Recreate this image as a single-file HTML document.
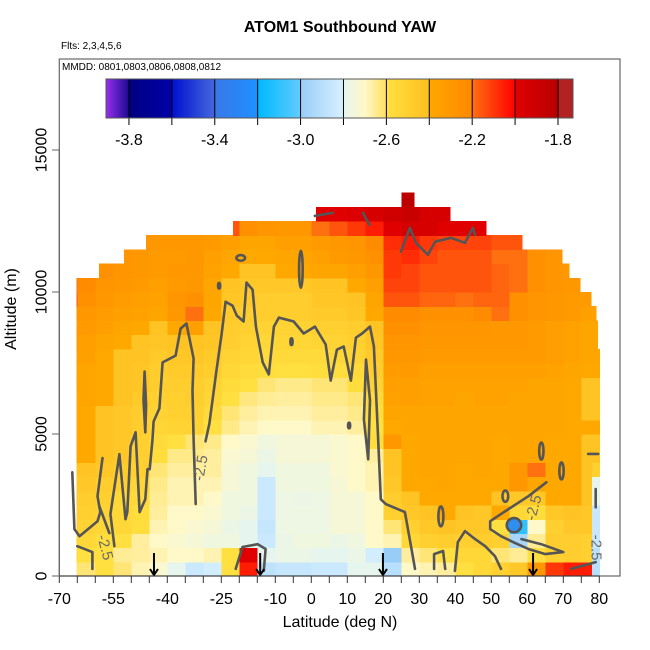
<!DOCTYPE html>
<html><head><meta charset="utf-8"><style>
html,body{margin:0;padding:0;background:#fff;}
svg{display:block;font-family:"Liberation Sans",Arial,sans-serif;}
</style></head><body>
<svg id="chart" width="650" height="650" viewBox="0 0 650 650"></svg>
<script>
// ---- data ----
const binEdges = [-70,-65,-60,-55,-50,-45,-40,-35,-30,-25,-20,-15,-10,-5,0,5,10,15,20,25,30,35,40,45,50,55,60,65,70,75,78,80];
const rowStart = [-65.2,-65.2,-65.2,-65.2,-65.2,-65.2,-65.2,-65.2,-65.2,-65.2,-65.2,-65.2,-65.2,-65.2,-65.2,-65.2,-65.2,-65.2,-65.2,-65.2,-65.2,-59,-52,-45.9,-21.8,1.3,24.4];
const rowEnd   = [80.5,80.5,80.5,80.5,80.5,80.5,80.5,80.5,80.5,80.5,80.5,80.5,80.2,80.2,80,80,79.5,79.5,79.1,77.7,74.6,71.6,69.6,58.5,48.5,38.5,28.5];
const row0  = [-2.62,-2.62,-2.6,-2.62,-2.68,-2.72,-2.8,-2.84,-2.82,-2.6,-2.05,-2.88,-2.86,-2.86,-2.84,-2.84,-2.8,-2.8,-2.9,-2.7,-2.68,-2.66,-2.6,-2.55,-2.5,-2.45,-2.3,-2.1,-2.05,-2.05,-2.9];
const row1  = [-2.55,-2.6,-2.6,-2.65,-2.66,-2.68,-2.7,-2.7,-2.68,-2.6,-2.0,-2.8,-2.78,-2.78,-2.8,-2.8,-2.78,-2.82,-3.0,-2.66,-2.62,-2.6,-2.55,-2.55,-2.62,-2.65,-2.6,-2.5,-2.48,-2.5,-2.9];
const row2  = [-2.5,-2.55,-2.58,-2.6,-2.66,-2.7,-2.72,-2.74,-2.76,-2.76,-2.8,-2.84,-2.78,-2.76,-2.76,-2.78,-2.76,-2.7,-2.68,-2.55,-2.5,-2.48,-2.5,-2.48,-2.5,-2.95,-2.65,-2.48,-2.48,-2.5,-2.85];
const row3  = [-2.5,-2.52,-2.55,-2.55,-2.58,-2.68,-2.7,-2.72,-2.74,-2.78,-2.8,-2.86,-2.77,-2.77,-2.77,-2.74,-2.74,-2.7,-2.62,-2.5,-2.45,-2.42,-2.45,-2.45,-2.6,-3.1,-2.7,-2.5,-2.45,-2.45,-2.85];
const row4  = [-2.5,-2.5,-2.52,-2.55,-2.58,-2.66,-2.7,-2.7,-2.72,-2.76,-2.78,-2.84,-2.77,-2.77,-2.77,-2.74,-2.74,-2.7,-2.5,-2.45,-2.42,-2.4,-2.42,-2.45,-2.4,-2.55,-2.58,-2.45,-2.42,-2.45,-2.85];
const row5  = [-2.45,-2.48,-2.5,-2.55,-2.56,-2.65,-2.68,-2.68,-2.7,-2.76,-2.76,-2.84,-2.77,-2.78,-2.77,-2.74,-2.74,-2.7,-2.48,-2.42,-2.4,-2.4,-2.4,-2.4,-2.42,-2.45,-2.45,-2.4,-2.4,-2.42,-2.8];
const row6  = [-2.45,-2.45,-2.48,-2.5,-2.54,-2.64,-2.68,-2.68,-2.68,-2.74,-2.76,-2.84,-2.76,-2.76,-2.76,-2.74,-2.7,-2.68,-2.45,-2.4,-2.4,-2.38,-2.4,-2.4,-2.4,-2.3,-2.38,-2.4,-2.4,-2.42,-2.8];
const row7  = [-2.42,-2.42,-2.45,-2.48,-2.5,-2.62,-2.66,-2.66,-2.66,-2.74,-2.76,-2.8,-2.76,-2.76,-2.76,-2.72,-2.7,-2.68,-2.42,-2.4,-2.38,-2.38,-2.4,-2.38,-2.4,-2.3,-2.2,-2.4,-2.4,-2.42,-2.5];
const row8  = [-2.4,-2.4,-2.42,-2.45,-2.5,-2.58,-2.64,-2.64,-2.66,-2.72,-2.74,-2.78,-2.74,-2.74,-2.74,-2.72,-2.7,-2.66,-2.42,-2.4,-2.38,-2.38,-2.38,-2.38,-2.4,-2.38,-2.38,-2.4,-2.4,-2.42,-2.42];
const row9  = [-2.4,-2.4,-2.42,-2.45,-2.5,-2.56,-2.6,-2.62,-2.64,-2.7,-2.72,-2.76,-2.74,-2.74,-2.74,-2.72,-2.7,-2.58,-2.3,-2.4,-2.38,-2.38,-2.38,-2.38,-2.4,-2.38,-2.38,-2.4,-2.4,-2.42,-2.42];
const row10 = [-2.4,-2.4,-2.42,-2.45,-2.48,-2.54,-2.52,-2.52,-2.6,-2.64,-2.68,-2.7,-2.7,-2.7,-2.68,-2.68,-2.66,-2.6,-2.4,-2.38,-2.38,-2.38,-2.38,-2.38,-2.38,-2.38,-2.38,-2.38,-2.4,-2.4,-2.4];
const row11 = [-2.4,-2.4,-2.42,-2.45,-2.48,-2.52,-2.5,-2.5,-2.56,-2.62,-2.66,-2.68,-2.68,-2.68,-2.66,-2.66,-2.64,-2.58,-2.38,-2.38,-2.38,-2.38,-2.38,-2.38,-2.38,-2.38,-2.38,-2.38,-2.4,-2.42,-2.42];
const row12 = [-2.4,-2.38,-2.4,-2.42,-2.46,-2.5,-2.5,-2.48,-2.54,-2.6,-2.63,-2.65,-2.66,-2.66,-2.64,-2.64,-2.62,-2.56,-2.36,-2.35,-2.36,-2.36,-2.38,-2.36,-2.36,-2.38,-2.38,-2.38,-2.4,-2.42,-2.42];
const row13 = [-2.38,-2.38,-2.4,-2.42,-2.44,-2.48,-2.48,-2.48,-2.52,-2.57,-2.6,-2.62,-2.64,-2.64,-2.62,-2.62,-2.58,-2.52,-2.35,-2.35,-2.36,-2.36,-2.36,-2.36,-2.36,-2.36,-2.38,-2.38,-2.4,-2.42,-2.42];
const row14 = [-2.35,-2.38,-2.4,-2.42,-2.44,-2.48,-2.46,-2.46,-2.48,-2.55,-2.57,-2.58,-2.6,-2.6,-2.58,-2.58,-2.56,-2.48,-2.33,-2.32,-2.35,-2.35,-2.35,-2.35,-2.35,-2.35,-2.35,-2.36,-2.38,-2.4,-2.4];
const row15 = [-2.35,-2.35,-2.4,-2.42,-2.42,-2.46,-2.45,-2.44,-2.46,-2.52,-2.54,-2.56,-2.56,-2.56,-2.56,-2.55,-2.52,-2.46,-2.3,-2.3,-2.32,-2.32,-2.32,-2.32,-2.32,-2.32,-2.32,-2.34,-2.36,-2.38,-2.38];
const row16 = [-2.3,-2.35,-2.38,-2.4,-2.42,-2.44,-2.42,-2.42,-2.44,-2.48,-2.52,-2.55,-2.54,-2.54,-2.53,-2.52,-2.5,-2.44,-2.28,-2.28,-2.3,-2.3,-2.3,-2.3,-2.3,-2.3,-2.32,-2.34,-2.36,-2.38,-2.38];
const row17 = [-2.3,-2.32,-2.35,-2.38,-2.4,-2.42,-2.4,-2.35,-2.42,-2.48,-2.5,-2.52,-2.52,-2.52,-2.5,-2.5,-2.48,-2.42,-2.25,-2.25,-2.28,-2.28,-2.28,-2.28,-2.3,-2.3,-2.32,-2.34,-2.36,-2.38,-2.38];
const row18 = [-2.25,-2.3,-2.33,-2.35,-2.36,-2.38,-2.3,-2.2,-2.4,-2.46,-2.48,-2.48,-2.48,-2.48,-2.46,-2.46,-2.44,-2.4,-2.22,-2.22,-2.25,-2.25,-2.25,-2.22,-2.2,-2.25,-2.28,-2.3,-2.32,-2.35,-2.35];
const row19 = [-2.15,-2.25,-2.3,-2.33,-2.35,-2.36,-2.28,-2.25,-2.38,-2.44,-2.46,-2.48,-2.48,-2.48,-2.44,-2.44,-2.42,-2.38,-2.15,-2.15,-2.18,-2.18,-2.2,-2.18,-2.18,-2.25,-2.28,-2.3,-2.32,-2.32,null];
const row20 = [-2.2,-2.22,-2.28,-2.3,-2.32,-2.35,-2.32,-2.3,-2.38,-2.42,-2.45,-2.45,-2.45,-2.45,-2.42,-2.42,-2.4,-2.35,-2.12,-2.12,-2.15,-2.15,-2.15,-2.15,-2.18,-2.2,-2.25,-2.28,-2.3,null,null];
const row21 = [-2.2,-2.22,-2.25,-2.28,-2.3,-2.32,-2.3,-2.3,-2.36,-2.4,-2.42,-2.42,-2.4,-2.4,-2.38,-2.38,-2.35,-2.3,-2.1,-2.12,-2.15,-2.15,-2.15,-2.15,-2.18,-2.2,-2.25,-2.28,-2.3,null,null];
const row22 = [null,-2.22,-2.25,-2.28,-2.3,-2.32,-2.32,-2.3,-2.35,-2.38,-2.4,-2.4,-2.38,-2.38,-2.35,-2.32,-2.3,-2.25,-2.1,-2.08,-2.12,-2.15,-2.15,-2.15,-2.2,-2.2,-2.25,-2.28,null,null,null];
const row23 = [null,null,-2.22,-2.25,-2.28,-2.3,-2.3,-2.3,-2.32,-2.35,-2.38,-2.38,-2.35,-2.35,-2.32,-2.3,-2.28,-2.22,-2.08,-2.05,-2.1,-2.12,-2.12,-2.12,-2.15,-2.15,null,null,null,null,null];
const row24 = [null,null,null,null,null,null,null,null,null,-2.15,-2.25,-2.28,-2.3,-2.3,-2.2,-2.15,-2.1,-2.05,-2.0,-1.95,-1.95,-2.0,-2.0,-2.0,null,null,null,null,null,null,null];
const row25 = [null,null,null,null,null,null,null,null,null,null,null,null,null,null,-2.0,-2.0,-1.98,-1.95,-1.92,-1.88,-1.95,-1.95,null,null,null,null,null,null,null,null,null];
const row26 = [null,null,null,null,null,null,null,null,null,null,null,null,null,null,null,null,null,null,null,-1.82,null,null,null,null,null,null,null,null,null,null,null];
const rows = [row0,row1,row2,row3,row4,row5,row6,row7,row8,row9,row10,row11,row12,row13,row14,row15,row16,row17,row18,row19,row20,row21,row22,row23,row24,row25,row26];
const rowHeightKm = 0.5;

const xTicks = [-70,-65,-60,-55,-50,-45,-40,-35,-30,-25,-20,-15,-10,-5,0,5,10,15,20,25,30,35,40,45,50,55,60,65,70,75,80];
const xTickLabels = [-70,-55,-40,-25,-10,0,10,20,30,40,50,60,70,80];
const yTicks = [0,5000,10000,15000];
const cbTicks = [-3.8,-3.6,-3.4,-3.2,-3.0,-2.8,-2.6,-2.4,-2.2,-2.0,-1.8];
const cbLabels = ["-3.8","-3.4","-3.0","-2.6","-2.2","-1.8"];
const arrowLats = [-43.7,-14.2,19.9,61.6];

// contour polylines in [lat, altitude km]
const contourA1 = [[-32.1,2.53],[-32.7,4.81],[-33.0,6.53],[-32.7,7.66],[-34.7,8.89],[-36.3,8.71],[-37.7,7.76],[-41.3,7.52],[-42.2,5.90],[-43.8,5.44],[-44.1,4.81],[-44.9,3.76],[-45.5,3.76],[-46.1,2.70],[-47.7,2.25],[-48.8,5.06],[-50.2,4.57],[-51.1,2.25],[-51.6,2.0],[-53.3,4.29],[-55.8,2.18],[-54.7,1.05]];
const contourA2 = [[-29.4,4.74],[-28.3,5.37],[-26.3,7.27],[-24.9,8.54],[-23.8,9.66],[-21.9,9.52],[-20.7,9.17],[-18.8,8.96],[-18.0,10.33],[-16.3,10.08],[-15.4,8.78],[-13.5,7.52],[-11.8,7.10],[-10.4,8.78],[-9.0,9.10],[-4.9,8.96],[-2.1,8.54],[1.0,8.78],[4.0,8.15],[5.4,6.88],[7.1,7.97],[9.0,8.08],[11.0,6.88],[12.4,8.39],[14.1,8.54],[16.3,8.78],[17.4,8.08],[18.5,5.02],[19.3,2.70],[20.7,2.53],[26.0,2.25],[27.7,1.05],[28.8,0.25]];
const contourB = [[-66.4,3.65],[-65.8,1.65],[-64.4,1.40],[-59.4,1.93],[-58.6,2.25],[-59.4,2.81],[-58.0,4.15]];
const contourB2 = [[-65.0,1.05],[-60.8,0.84],[-60.8,0.25]];
const contourC = [[-58.9,2.46],[-56.8,1.75],[-56.1,1.51]];
const contourE = [[-46.3,7.2],[-45.9,6.0],[-46.1,5.06],[-46.6,6.2],[-46.3,7.2]];
const contourF = [[65.3,3.30],[60.3,2.81],[53.9,2.28],[49.7,1.93],[49.7,1.65],[52.7,1.40],[56.1,1.19],[60.3,0.95],[65.0,0.77],[70.0,0.84],[63.9,1.12],[58.4,1.30]];
const contourG1 = [[34.1,0.25],[34.1,0.77],[36.6,0.88],[37.2,0.25]];
const contourG2 = [[39.9,0.18],[40.7,1.19],[42.7,1.58],[45.5,1.30],[48.3,1.05],[51.0,0.70],[52.7,0.25]];
const contourRed = [[-21.0,0.25],[-19.1,1.02],[-14.9,1.12],[-12.7,0.95],[-13.2,0.18]];
const contourR1 = [[79.0,3.06],[79.0,2.42]];
const contourR2 = [[72.2,0.25],[79.0,0.49]];
const contourR3 = [[76.9,4.3],[79.7,4.3]];
const contourT1 = [[1.0,12.68],[6.0,12.79]];
const contourT2 = [[14.3,12.79],[16.2,12.36]];
const contourT3 = [[24.9,11.42],[27.4,12.26],[29.1,11.73],[32.4,11.31],[34.4,11.77],[38.8,11.91],[42.7,11.73],[44.1,12.08],[44.9,12.26],[45.5,12.01]];
const contourV = [[15.2,7.62],[14.6,5.51],[15.8,4.11],[16.3,6.19],[15.2,7.62]];
const contours = [contourA1,contourA2,contourB,contourB2,contourC,contourE,contourF,contourG1,contourG2,contourRed,contourR1,contourR2,contourR3,contourT1,contourT2,contourT3,contourV];
const loops = [[36.0,2.1,0.7,0.35],[53.9,2.81,0.8,0.2],[63.9,4.4,0.6,0.3],[69.5,3.7,0.6,0.3],[-19.6,11.2,1.2,0.1],[-2.9,10.8,0.5,0.65],[-25.6,10.22,0.3,0.1],[-5.5,8.25,0.3,0.12],[10.5,5.3,0.3,0.1]];
const blueLoop = [56.3,1.79,2.0,0.25];
const contourLabels = [[-30.5,3.8,-80],[-57.5,1.0,75],[62.0,2.4,-75],[79.0,1.0,90]];

// ---- scales ----
const X = lat => 59.3 + (lat + 70) * 3.6;
const Y = km => 576 - km * 28.4;
const Ym = m => Y(m / 1000);
const CB0 = -3.907, CB1 = -1.73, CBX0 = 106, CBX1 = 573;
const CBX = v => CBX0 + (v - CB0) / (CB1 - CB0) * (CBX1 - CBX0);

const stops = [[-3.91,'#9a30f0'],[-3.8,'#1a0a90'],[-3.8,'#000080'],[-3.6,'#0000a8'],[-3.6,'#0010d0'],[-3.4,'#4468dd'],[-3.4,'#3878e8'],[-3.2,'#1e90ff'],[-3.2,'#00b8ff'],[-3.0,'#60ccff'],[-3.0,'#98cdf8'],[-2.8,'#d8f0ff'],[-2.8,'#e6f6ee'],[-2.7,'#fff8c8'],[-2.6,'#ffe060'],[-2.6,'#ffe040'],[-2.4,'#ffc020'],[-2.4,'#ffa800'],[-2.2,'#ff8800'],[-2.2,'#ff7010'],[-2.0,'#ff0000'],[-2.0,'#e00000'],[-1.8,'#b80000'],[-1.8,'#b22222'],[-1.6,'#b22222']];
function hex(h){return [parseInt(h.slice(1,3),16),parseInt(h.slice(3,5),16),parseInt(h.slice(5,7),16)];}
function color(v){
  if (v <= stops[0][0]) return stops[0][1];
  for (let i=0;i<stops.length-1;i++){
    const a=stops[i], b=stops[i+1];
    if (v>=a[0] && v<b[0]){
      const t=(v-a[0])/(b[0]-a[0]); const ca=hex(a[1]), cb=hex(b[1]);
      return 'rgb('+ca.map((c,k)=>Math.round(c+(cb[k]-c)*t)).join(',')+')';
    }
  }
  return stops[stops.length-1][1];
}

const NS='http://www.w3.org/2000/svg';
const svg=document.getElementById('chart');
function el(tag, attrs, parent){const e=document.createElementNS(NS,tag);for(const k in attrs)e.setAttribute(k,attrs[k]);(parent||svg).appendChild(e);return e;}

const gHeat = el('g',{'shape-rendering':'crispEdges'});


rows.forEach((vals,r)=>{
  const k0=r*rowHeightKm, k1=k0+rowHeightKm;
  vals.forEach((v,b)=>{
    if (v===null) return;
    const l0=Math.max(binEdges[b],rowStart[r]), l1=Math.min(binEdges[b+1],rowEnd[r]);
    if (l1<=l0) return;
    const c=el('rect',{x:X(l0),y:Y(k1),width:X(l1)-X(l0)+0.6,height:Y(k0)-Y(k1)+0.6,fill:color(v)},gHeat);
    
    
  });
});

const gC = el('g',{fill:'none',stroke:'#555','stroke-width':2.6,'stroke-linejoin':'round','stroke-linecap':'round'});


contours.forEach(pts=>{
  const p=el('polyline',{points:pts.map(q=>X(q[0]).toFixed(1)+','+Y(q[1]).toFixed(1)).join(' ')},gC);
  
  
});
loops.forEach(q=>{
  const e=el('ellipse',{cx:X(q[0]),cy:Y(q[1]),rx:q[2]*3.6,ry:q[3]*28.4},gC);
  
  
});
const bl=el('ellipse',{cx:X(blueLoop[0]),cy:Y(blueLoop[1]),rx:blueLoop[2]*3.6,ry:blueLoop[3]*28.4,fill:'#2f8ff0'},gC);


contourLabels.forEach(q=>{
  const t=el('text',{x:X(q[0]),y:Y(q[1]),fill:'#6a6a6a','font-size':15,'text-anchor':'middle','dominant-baseline':'middle',transform:`rotate(${q[2]} ${X(q[0])} ${Y(q[1])})`});
  t.textContent='-2.5';
  
  
});

arrowLats.forEach(lat=>{
  const g=el('g',{stroke:'#000','stroke-width':2,fill:'none'});
  
  
  el('line',{x1:X(lat),y1:553,x2:X(lat),y2:575},g);
  el('polyline',{points:`${X(lat)-4},${569} ${X(lat)},${575} ${X(lat)+4},${569}`},g);
});

const frame=el('rect',{x:59.3,y:59,width:560.7,height:517,fill:'none',stroke:'#666','stroke-width':1.2});


const xa=el('g',{});


el('line',{x1:X(-70),y1:576,x2:X(80),y2:576,stroke:'#333','stroke-width':1},xa);
xTicks.forEach(t=>{el('line',{x1:X(t),y1:576,x2:X(t),y2:583,stroke:'#333','stroke-width':1},xa);});
xTickLabels.forEach(t=>{
  const tx=el('text',{x:X(t),y:604,'font-size':16,'text-anchor':'middle',fill:'#000'},xa);
  tx.textContent=String(t);
  
  
});
const ya=el('g',{});


el('line',{x1:59.3,y1:Ym(0),x2:59.3,y2:Ym(15000),stroke:'#666','stroke-width':1.2},ya);
yTicks.forEach(t=>{
  el('line',{x1:52,y1:Ym(t),x2:59.3,y2:Ym(t),stroke:'#666','stroke-width':1},ya);
  const tx=el('text',{x:42,y:Ym(t),'font-size':16,'text-anchor':'middle','dominant-baseline':'central',fill:'#000',transform:`rotate(-90 42 ${Ym(t)})`},ya);
  tx.textContent=String(t);
  
  
});

const cb=el('g',{});


const gcb=el('g',{'shape-rendering':'crispEdges'},cb);
for(let i=0;i<467;i++){
  const v=CB0+(i+0.5)/467*(CB1-CB0);
  el('rect',{x:CBX0+i,y:79,width:1.2,height:39,fill:color(v)},gcb);
}
cbTicks.forEach(t=>{el('line',{x1:CBX(t),y1:79,x2:CBX(t),y2:125,stroke:'#000','stroke-width':1},cb);});
el('rect',{x:CBX0,y:79,width:CBX1-CBX0,height:39,fill:'none',stroke:'#555','stroke-width':1},cb);
cbLabels.forEach(s=>{
  const tx=el('text',{x:CBX(parseFloat(s)),y:145,'font-size':16,'text-anchor':'middle',fill:'#000'},cb);
  tx.textContent=s;
  
  
});
</script>
<div style="position:absolute;left:0;top:0;width:650px;height:650px;pointer-events:none;font-family:'Liberation Sans',Arial,sans-serif;">
  <div style="position:absolute;left:0;width:680px;top:19px;text-align:center;font-weight:bold;font-size:16px;">ATOM1 Southbound YAW</div>
  <div style="position:absolute;left:61px;top:41px;font-size:10px;">Flts: 2,3,4,5,6</div>
  <div style="position:absolute;left:62px;top:62px;font-size:10px;">MMDD: 0801,0803,0806,0808,0812</div>
  <div style="position:absolute;left:0;width:680px;top:614px;text-align:center;font-size:16px;">Latitude (deg N)</div>
  <div style="position:absolute;left:-88px;top:300px;width:200px;text-align:center;font-size:16px;transform:rotate(-90deg);">Altitude (m)</div>
</div>
</body></html>
